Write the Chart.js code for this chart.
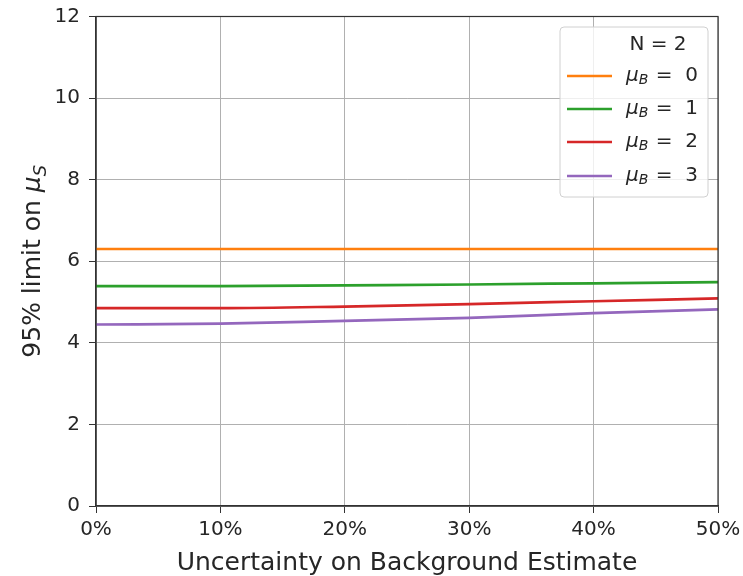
<!DOCTYPE html>
<html>
<head>
<meta charset="utf-8">
<script src="https://cdn.jsdelivr.net/npm/chart.js@4/dist/chart.umd.min.js"></script>
<style>
  html, body { margin: 0; padding: 0; background: #fff; }
  #wrap { width: 743px; height: 576px; }
</style>
</head>
<body>
<div id="wrap"><canvas id="c" width="743" height="576"></canvas></div>
<script>
// Uncertainty on the background estimate (%)
const uncertainty = [0, 10, 20, 30, 40, 50];
// Expected background counts for each curve
const muB = [0, 1, 2, 3];
// 95% upper limit on the signal for N = 2 observed events
const limitB0 = [6.30, 6.30, 6.30, 6.30, 6.30, 6.30];
const limitB1 = [5.39, 5.39, 5.41, 5.43, 5.46, 5.49];
const limitB2 = [4.85, 4.85, 4.89, 4.95, 5.02, 5.09];
const limitB3 = [4.45, 4.47, 4.54, 4.61, 4.73, 4.82];
const observedN = 2;
const yTicks = [0, 2, 4, 6, 8, 10, 12];
const xTicks = [0, 10, 20, 30, 40, 50];
const xTitle = 'Uncertainty on Background Estimate';

const colors = ['#ff7f0e', '#2ca02c', '#d62728', '#9467bd'];
const series = [limitB0, limitB1, limitB2, limitB3];
const FONT = '"DejaVu Sans", sans-serif';
const TEXT = '#262626';

const datasets = series.map((vals, i) => ({
  label: 'mu_B = ' + muB[i],
  data: vals.map((v, k) => ({ x: uncertainty[k], y: v })),
  borderColor: colors[i],
  backgroundColor: colors[i],
  borderWidth: 2.7,
  pointRadius: 0,
  fill: false,
  cubicInterpolationMode: 'monotone'
}));

// Draws an italic "μ" with an italic subscript; returns the end x
function drawMu(ctx, x, y, sub, size) {
  ctx.font = 'italic ' + size + 'px ' + FONT;
  ctx.fillText('μ', x, y);
  const w = ctx.measureText('μ').width;
  ctx.font = 'italic ' + Math.round(size * 0.7) + 'px ' + FONT;
  ctx.fillText(sub, x + w, y + size * 0.22);
  return x + w + ctx.measureText(sub).width;
}

const decorations = {
  id: 'decorations',
  afterDraw(chart) {
    const ctx = chart.ctx;
    const a = chart.chartArea;
    ctx.save();
    // frame on all four sides
    ctx.strokeStyle = '#333';
    ctx.lineWidth = 1.2;
    ctx.strokeRect(a.left, a.top, a.right - a.left, a.bottom - a.top);

    // x-axis title
    ctx.fillStyle = TEXT;
    ctx.textAlign = 'center';
    ctx.textBaseline = 'alphabetic';
    ctx.font = '25px ' + FONT;
    ctx.fillText(xTitle, (a.left + a.right) / 2, 570);

    // y-axis title, rotated
    ctx.textAlign = 'left';
    ctx.translate(40, (a.top + a.bottom) / 2);
    ctx.rotate(-Math.PI / 2);
    const size = 25;
    ctx.font = size + 'px ' + FONT;
    const base = '95% limit on ';
    const wBase = ctx.measureText(base).width;
    ctx.font = 'italic ' + size + 'px ' + FONT;
    const wMu = ctx.measureText('μ').width;
    ctx.font = 'italic ' + Math.round(size * 0.7) + 'px ' + FONT;
    const wS = ctx.measureText('S').width;
    const x0 = -(wBase + wMu + wS) / 2;
    ctx.font = size + 'px ' + FONT;
    ctx.fillText(base, x0, 0);
    drawMu(ctx, x0 + wBase, 0, 'S', size);
    ctx.restore();

    // legend box
    ctx.save();
    const bx = 560, by = 27, bw = 148, bh = 170, r = 4;
    ctx.beginPath();
    ctx.moveTo(bx + r, by);
    ctx.arcTo(bx + bw, by, bx + bw, by + bh, r);
    ctx.arcTo(bx + bw, by + bh, bx, by + bh, r);
    ctx.arcTo(bx, by + bh, bx, by, r);
    ctx.arcTo(bx, by, bx + bw, by, r);
    ctx.closePath();
    ctx.fillStyle = 'rgba(255,255,255,0.8)';
    ctx.fill();
    ctx.strokeStyle = '#d0d0d0';
    ctx.lineWidth = 1;
    ctx.stroke();

    ctx.fillStyle = TEXT;
    ctx.textBaseline = 'middle';
    ctx.textAlign = 'center';
    ctx.font = '20px ' + FONT;
    ctx.fillText('N = ' + observedN, 658, 45);

    ctx.textAlign = 'left';
    const rows = [76, 109, 142, 176];
    muB.forEach((b, i) => {
      const y = rows[i];
      ctx.strokeStyle = colors[i];
      ctx.lineWidth = 2.7;
      ctx.beginPath();
      ctx.moveTo(567, y);
      ctx.lineTo(612, y);
      ctx.stroke();
      ctx.fillStyle = TEXT;
      const end = drawMu(ctx, 626, y, 'B', 20);
      ctx.font = '20px ' + FONT;
      ctx.fillText(' =  ' + b, end + 1, y);
    });
    ctx.restore();
  }
};

new Chart(document.getElementById('c'), {
  type: 'line',
  data: { datasets },
  plugins: [decorations],
  options: {
    responsive: false,
    animation: false,
    devicePixelRatio: 1,
    layout: { padding: { left: 0, top: 16.5, right: 25, bottom: 0 } },
    plugins: { legend: { display: false }, tooltip: { enabled: false } },
    scales: {
      x: {
        type: 'linear',
        min: 0, max: 50,
        afterBuildTicks: s => { s.ticks = xTicks.map(v => ({ value: v })); },
        afterFit: s => { s.height = 70; s.paddingLeft = 0; s.paddingRight = 0; },
        ticks: {
          callback: v => v + '%',
          color: TEXT,
          font: { family: FONT, size: 20 },
          padding: 5,
          maxRotation: 0
        },
        grid: { color: '#b0b0b0', lineWidth: 1, tickLength: 7, tickColor: '#333' },
        border: { color: '#333', width: 1.2 }
      },
      y: {
        min: 0, max: 12,
        afterBuildTicks: s => { s.ticks = yTicks.map(v => ({ value: v })); },
        afterFit: s => { s.width = 96; s.paddingTop = 0; s.paddingBottom = 0; },
        ticks: {
          color: TEXT,
          font: { family: FONT, size: 20 },
          padding: 9
        },
        grid: { color: '#b0b0b0', lineWidth: 1, tickLength: 7, tickColor: '#333' },
        border: { color: '#333', width: 1.2 }
      }
    }
  }
});
</script>
</body>
</html>
